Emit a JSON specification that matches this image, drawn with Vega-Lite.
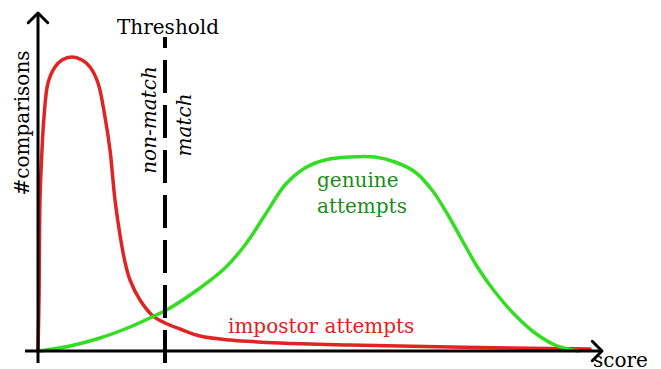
{
  "$schema": "https://vega.github.io/schema/vega-lite/v6.json",
  "width": 661,
  "height": 369,
  "padding": 0,
  "autosize": {"type": "none"},
  "background": "white",
  "config": {"view": {"stroke": null}},
  "datasets": {
    "curves": [
      {"series": "impostor", "score": 0, "count": 0},
      {"series": "impostor", "score": 1, "count": 51},
      {"series": "impostor", "score": 2, "count": 151},
      {"series": "impostor", "score": 4, "count": 201},
      {"series": "impostor", "score": 6, "count": 234},
      {"series": "impostor", "score": 10, "count": 268},
      {"series": "impostor", "score": 17, "count": 284},
      {"series": "impostor", "score": 24, "count": 291},
      {"series": "impostor", "score": 34, "count": 294},
      {"series": "impostor", "score": 44, "count": 291},
      {"series": "impostor", "score": 52, "count": 284},
      {"series": "impostor", "score": 60, "count": 268},
      {"series": "impostor", "score": 67, "count": 234},
      {"series": "impostor", "score": 72, "count": 201},
      {"series": "impostor", "score": 77, "count": 151},
      {"series": "impostor", "score": 82, "count": 116},
      {"series": "impostor", "score": 87, "count": 89},
      {"series": "impostor", "score": 92, "count": 71},
      {"series": "impostor", "score": 102, "count": 51},
      {"series": "impostor", "score": 115, "count": 35},
      {"series": "impostor", "score": 127, "count": 28},
      {"series": "impostor", "score": 142, "count": 22},
      {"series": "impostor", "score": 162, "count": 15},
      {"series": "impostor", "score": 192, "count": 11},
      {"series": "impostor", "score": 242, "count": 8},
      {"series": "impostor", "score": 312, "count": 6},
      {"series": "impostor", "score": 412, "count": 4},
      {"series": "impostor", "score": 552, "count": 2},
      {"series": "genuine", "score": 2, "count": 0},
      {"series": "genuine", "score": 32, "count": 5},
      {"series": "genuine", "score": 62, "count": 13},
      {"series": "genuine", "score": 92, "count": 24},
      {"series": "genuine", "score": 112, "count": 33},
      {"series": "genuine", "score": 132, "count": 43},
      {"series": "genuine", "score": 162, "count": 63},
      {"series": "genuine", "score": 187, "count": 83},
      {"series": "genuine", "score": 207, "count": 106},
      {"series": "genuine", "score": 227, "count": 136},
      {"series": "genuine", "score": 247, "count": 166},
      {"series": "genuine", "score": 267, "count": 183},
      {"series": "genuine", "score": 287, "count": 191},
      {"series": "genuine", "score": 312, "count": 194},
      {"series": "genuine", "score": 337, "count": 194},
      {"series": "genuine", "score": 357, "count": 189},
      {"series": "genuine", "score": 377, "count": 179},
      {"series": "genuine", "score": 394, "count": 161},
      {"series": "genuine", "score": 410, "count": 136},
      {"series": "genuine", "score": 424, "count": 111},
      {"series": "genuine", "score": 440, "count": 83},
      {"series": "genuine", "score": 457, "count": 59},
      {"series": "genuine", "score": 477, "count": 36},
      {"series": "genuine", "score": 497, "count": 18},
      {"series": "genuine", "score": 517, "count": 6},
      {"series": "genuine", "score": 540, "count": 0}
    ]
  },
  "layer": [
    {
      "data": {"name": "curves"},
      "mark": {"type": "line", "interpolate": "catmull-rom", "strokeWidth": 3.5, "strokeCap": "round"},
      "encoding": {
        "x": {"field": "score", "type": "quantitative", "scale": {"domain": [-38, 623], "nice": false, "zero": false}, "axis": null},
        "y": {"field": "count", "type": "quantitative", "scale": {"domain": [-18, 351], "nice": false, "zero": false}, "axis": null},
        "color": {"field": "series", "type": "nominal", "scale": {"domain": ["impostor", "genuine"], "range": ["#e02424", "#33dd22"]}, "legend": null},
        "detail": {"field": "series"}
      }
    },
    {
      "data": {"values": [{}]},
      "mark": {"type": "rule", "color": "black", "strokeWidth": 3},
      "encoding": {
        "x": {"datum": -13, "type": "quantitative"},
        "x2": {"datum": 563},
        "y": {"datum": 0, "type": "quantitative"}
      }
    },
    {
      "data": {"values": [{}]},
      "mark": {"type": "rule", "color": "black", "strokeWidth": 3},
      "encoding": {
        "x": {"datum": 0, "type": "quantitative"},
        "y": {"datum": 337, "type": "quantitative"},
        "y2": {"datum": -12}
      }
    },
    {
      "data": {"values": [{}]},
      "mark": {"type": "rule", "color": "black", "strokeWidth": 4, "strokeDash": [33, 12], "strokeDashOffset": 22},
      "encoding": {
        "x": {"datum": 127, "type": "quantitative"},
        "y": {"datum": 314, "type": "quantitative"},
        "y2": {"datum": -18}
      }
    },
    {
      "data": {"values": [{}]},
      "mark": {"type": "point", "shape": "M-1,-1L0,0L-1,1", "filled": false, "stroke": "black", "strokeWidth": 3, "size": 380, "opacity": 1, "strokeCap": "round", "strokeJoin": "round"},
      "encoding": {
        "x": {"datum": 564, "type": "quantitative"},
        "y": {"datum": 0, "type": "quantitative"}
      }
    },
    {
      "data": {"values": [{}]},
      "mark": {"type": "point", "shape": "M-1,-1L0,0L-1,1", "filled": false, "stroke": "black", "strokeWidth": 3, "size": 380, "opacity": 1, "angle": -90, "strokeCap": "round", "strokeJoin": "round"},
      "encoding": {
        "x": {"datum": 0, "type": "quantitative"},
        "y": {"datum": 338, "type": "quantitative"}
      }
    },
    {
      "data": {"values": [{}]},
      "mark": {"type": "text", "text": "Threshold", "font": "DejaVu Serif", "fontSize": 20, "align": "center", "baseline": "alphabetic", "color": "black"},
      "encoding": {
        "x": {"datum": 130, "type": "quantitative"},
        "y": {"datum": 317, "type": "quantitative"}
      }
    },
    {
      "data": {"values": [{}]},
      "mark": {"type": "text", "text": "#comparisons", "font": "DejaVu Serif", "fontSize": 20, "align": "center", "baseline": "alphabetic", "angle": 270, "color": "black"},
      "encoding": {
        "x": {"datum": -9, "type": "quantitative"},
        "y": {"datum": 228, "type": "quantitative"}
      }
    },
    {
      "data": {"values": [{}]},
      "mark": {"type": "text", "text": "non-match", "font": "DejaVu Serif", "fontSize": 20, "fontStyle": "italic", "align": "center", "baseline": "alphabetic", "angle": 270, "color": "black"},
      "encoding": {
        "x": {"datum": 118, "type": "quantitative"},
        "y": {"datum": 231, "type": "quantitative"}
      }
    },
    {
      "data": {"values": [{}]},
      "mark": {"type": "text", "text": "match", "font": "DejaVu Serif", "fontSize": 20, "fontStyle": "italic", "align": "center", "baseline": "alphabetic", "angle": 270, "color": "black"},
      "encoding": {
        "x": {"datum": 153, "type": "quantitative"},
        "y": {"datum": 226, "type": "quantitative"}
      }
    },
    {
      "data": {"values": [{}]},
      "mark": {"type": "text", "text": "genuine", "font": "DejaVu Serif", "fontSize": 20, "align": "left", "baseline": "alphabetic", "color": "#1a8c1a"},
      "encoding": {
        "x": {"datum": 279, "type": "quantitative"},
        "y": {"datum": 164, "type": "quantitative"}
      }
    },
    {
      "data": {"values": [{}]},
      "mark": {"type": "text", "text": "attempts", "font": "DejaVu Serif", "fontSize": 20, "align": "left", "baseline": "alphabetic", "color": "#1a8c1a"},
      "encoding": {
        "x": {"datum": 279, "type": "quantitative"},
        "y": {"datum": 138, "type": "quantitative"}
      }
    },
    {
      "data": {"values": [{}]},
      "mark": {"type": "text", "text": "impostor attempts", "font": "DejaVu Serif", "fontSize": 20, "align": "left", "baseline": "alphabetic", "color": "#e3201b"},
      "encoding": {
        "x": {"datum": 190, "type": "quantitative"},
        "y": {"datum": 18, "type": "quantitative"}
      }
    },
    {
      "data": {"values": [{}]},
      "mark": {"type": "text", "text": "score", "font": "DejaVu Serif", "fontSize": 20, "align": "left", "baseline": "alphabetic", "color": "black"},
      "encoding": {
        "x": {"datum": 555, "type": "quantitative"},
        "y": {"datum": -16, "type": "quantitative"}
      }
    }
  ]
}
